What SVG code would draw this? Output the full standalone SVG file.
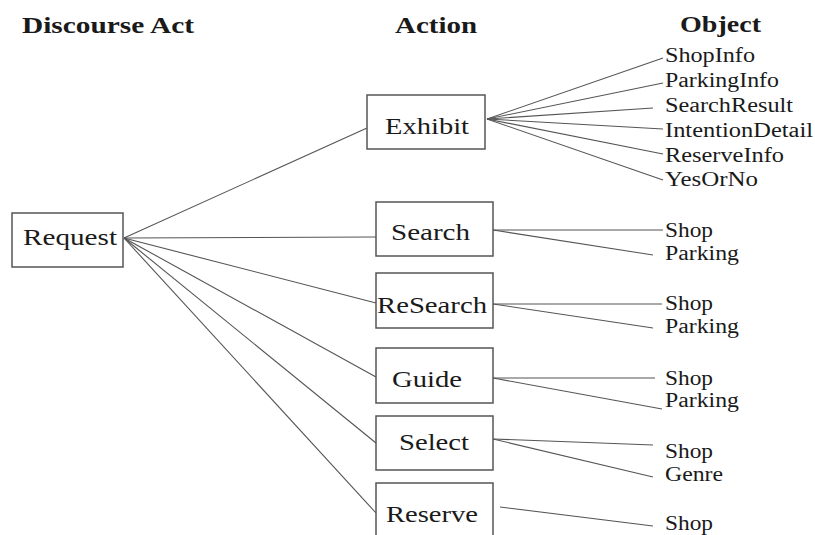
<svg xmlns="http://www.w3.org/2000/svg" width="815" height="535" viewBox="0 0 815 535">
<style>
text{font-family:"Liberation Serif","Times New Roman",serif;fill:#1a1a1a}
.h{font-size:24px;font-weight:bold}
.n{font-size:24px}
.o{font-size:20px}
rect{fill:#fff;stroke:#555;stroke-width:1.5}
#connectors line{stroke:#555;stroke-width:1.1}
</style>
<rect x="0" y="0" width="815" height="535" style="fill:#fff;stroke:none"/>
<g id="headers">
<text class="h" x="22" y="33" textLength="172" lengthAdjust="spacingAndGlyphs">Discourse Act</text>
<text class="h" x="395" y="33" textLength="82" lengthAdjust="spacingAndGlyphs">Action</text>
<text class="h" x="680" y="32" textLength="81" lengthAdjust="spacingAndGlyphs">Object</text>
</g>
<g id="connectors">
<line x1="124" y1="238" x2="367" y2="128"/>
<line x1="124" y1="238" x2="376" y2="237"/>
<line x1="124" y1="238" x2="376" y2="303"/>
<line x1="124" y1="238" x2="376" y2="377"/>
<line x1="124" y1="238" x2="376" y2="443"/>
<line x1="124" y1="238" x2="376" y2="513"/>
<line x1="487" y1="119" x2="663" y2="58"/>
<line x1="487" y1="119" x2="663" y2="83"/>
<line x1="487" y1="119" x2="653" y2="108"/>
<line x1="487" y1="119" x2="663" y2="129"/>
<line x1="487" y1="119" x2="663" y2="154"/>
<line x1="487" y1="119" x2="663" y2="180"/>
<line x1="493" y1="230" x2="663" y2="230"/>
<line x1="493" y1="230" x2="653" y2="255"/>
<line x1="493" y1="304" x2="662" y2="304"/>
<line x1="493" y1="304" x2="653" y2="328"/>
<line x1="493" y1="378" x2="655" y2="378"/>
<line x1="493" y1="378" x2="662" y2="409"/>
<line x1="493" y1="439" x2="653" y2="445"/>
<line x1="493" y1="439" x2="653" y2="477"/>
<line x1="500" y1="507" x2="653" y2="526"/>
</g>
<g id="request">
<rect x="12" y="213" width="111" height="54"/>
<text class="n" x="23" y="245" textLength="94" lengthAdjust="spacingAndGlyphs">Request</text>
</g>
<g id="exhibit">
<rect x="367" y="95" width="118" height="54"/>
<text class="n" x="385" y="134" textLength="84" lengthAdjust="spacingAndGlyphs">Exhibit</text>
</g>
<g id="search">
<rect x="376" y="202" width="117" height="54"/>
<text class="n" x="391" y="240" textLength="79" lengthAdjust="spacingAndGlyphs">Search</text>
</g>
<g id="research">
<rect x="376" y="273" width="117" height="55"/>
<text class="n" x="377" y="313" textLength="110" lengthAdjust="spacingAndGlyphs">ReSearch</text>
</g>
<g id="guide">
<rect x="376" y="348" width="117" height="55"/>
<text class="n" x="392" y="387" textLength="70" lengthAdjust="spacingAndGlyphs">Guide</text>
</g>
<g id="select">
<rect x="376" y="416" width="117" height="54"/>
<text class="n" x="399" y="450" textLength="70" lengthAdjust="spacingAndGlyphs">Select</text>
</g>
<g id="reserve">
<rect x="376" y="483" width="117" height="70"/>
<text class="n" x="386" y="522" textLength="92" lengthAdjust="spacingAndGlyphs">Reserve</text>
</g>
<g id="objects">
<text class="o" x="665" y="62" textLength="90" lengthAdjust="spacingAndGlyphs">ShopInfo</text>
<text class="o" x="665" y="87" textLength="114" lengthAdjust="spacingAndGlyphs">ParkingInfo</text>
<text class="o" x="665" y="112" textLength="128" lengthAdjust="spacingAndGlyphs">SearchResult</text>
<text class="o" x="665" y="137" textLength="148" lengthAdjust="spacingAndGlyphs">IntentionDetail</text>
<text class="o" x="665" y="162" textLength="119" lengthAdjust="spacingAndGlyphs">ReserveInfo</text>
<text class="o" x="665" y="186" textLength="93" lengthAdjust="spacingAndGlyphs">YesOrNo</text>
<text class="o" x="665" y="237" textLength="48" lengthAdjust="spacingAndGlyphs">Shop</text>
<text class="o" x="665" y="260" textLength="74" lengthAdjust="spacingAndGlyphs">Parking</text>
<text class="o" x="665" y="310" textLength="48" lengthAdjust="spacingAndGlyphs">Shop</text>
<text class="o" x="665" y="333" textLength="74" lengthAdjust="spacingAndGlyphs">Parking</text>
<text class="o" x="665" y="385" textLength="48" lengthAdjust="spacingAndGlyphs">Shop</text>
<text class="o" x="665" y="407" textLength="74" lengthAdjust="spacingAndGlyphs">Parking</text>
<text class="o" x="665" y="458" textLength="48" lengthAdjust="spacingAndGlyphs">Shop</text>
<text class="o" x="665" y="481" textLength="58" lengthAdjust="spacingAndGlyphs">Genre</text>
<text class="o" x="665" y="530" textLength="48" lengthAdjust="spacingAndGlyphs">Shop</text>
</g>
</svg>
